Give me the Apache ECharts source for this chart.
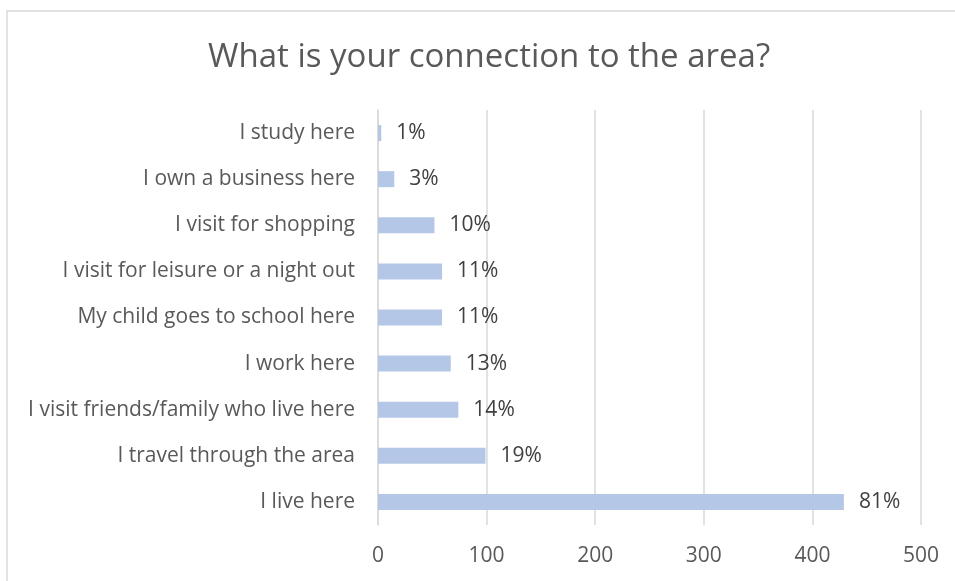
<!DOCTYPE html>
<html>
<head>
<meta charset="utf-8">
<title>What is your connection to the area?</title>
<script src="https://cdn.jsdelivr.net/npm/echarts@6/dist/echarts.min.js"></script>
<style>
  html, body { margin: 0; padding: 0; background: #ffffff; }
  #chart { width: 955px; height: 581px; }
</style>
</head>
<body>
<div id="chart"></div>
<script>
// Survey answers, listed bottom-to-top as drawn on the category axis
const categories = [
  'I live here',
  'I travel through the area',
  'I visit friends/family who live here',
  'I work here',
  'My child goes to school here',
  'I visit for leisure or a night out',
  'I visit for shopping',
  'I own a business here',
  'I study here'
];
// Number of respondents choosing each answer
const responses = [429, 99, 74, 67, 59, 59, 52, 15, 3];
// Share of respondents, shown at the end of each bar
const shareLabels = ['81%', '19%', '14%', '13%', '11%', '11%', '10%', '3%', '1%'];
// Value axis ticks
const axisMin = 0;
const axisMax = 500;
const axisStep = 100;

const FONT = '"Open Sans"';
const chart = echarts.init(document.getElementById('chart'), null, { renderer: 'canvas' });

chart.setOption({
  backgroundColor: '#ffffff',
  animation: false,
  textStyle: { fontFamily: FONT },
  graphic: [{
    type: 'rect',
    shape: { x: 7, y: 11, width: 1000, height: 700 },
    style: { fill: 'none', stroke: '#d9d9d9', lineWidth: 1.5 },
    silent: true,
    z: -1
  }],
  title: {
    text: 'What is your connection to the area?',
    left: 203,
    top: 36,
    textStyle: {
      fontFamily: FONT,
      fontSize: 33,
      fontWeight: 'normal',
      color: '#595959'
    }
  },
  grid: {
    left: 378,
    right: 34,
    top: 110,
    bottom: 56,
    containLabel: false
  },
  xAxis: {
    type: 'value',
    min: axisMin,
    max: axisMax,
    interval: axisStep,
    axisLine: { show: false },
    axisTick: { show: false },
    splitLine: { show: true, lineStyle: { color: '#d9d9d9', width: 1.5 } },
    axisLabel: {
      margin: 21,
      fontFamily: FONT,
      fontSize: 21,
      color: '#595959'
    }
  },
  yAxis: {
    type: 'category',
    data: categories,
    axisLine: { show: true, lineStyle: { color: '#d9d9d9', width: 1.5 } },
    axisTick: { show: false },
    axisLabel: {
      margin: 23,
      fontFamily: FONT,
      fontSize: 21,
      color: '#595959'
    }
  },
  series: [{
    type: 'bar',
    data: responses,
    barWidth: 16,
    itemStyle: { color: '#b4c7e7' },
    label: {
      show: true,
      position: 'right',
      distance: 15,
      fontFamily: FONT,
      fontSize: 21,
      color: '#404040',
      formatter: (p) => shareLabels[p.dataIndex]
    }
  }]
});
</script>
</body>
</html>
